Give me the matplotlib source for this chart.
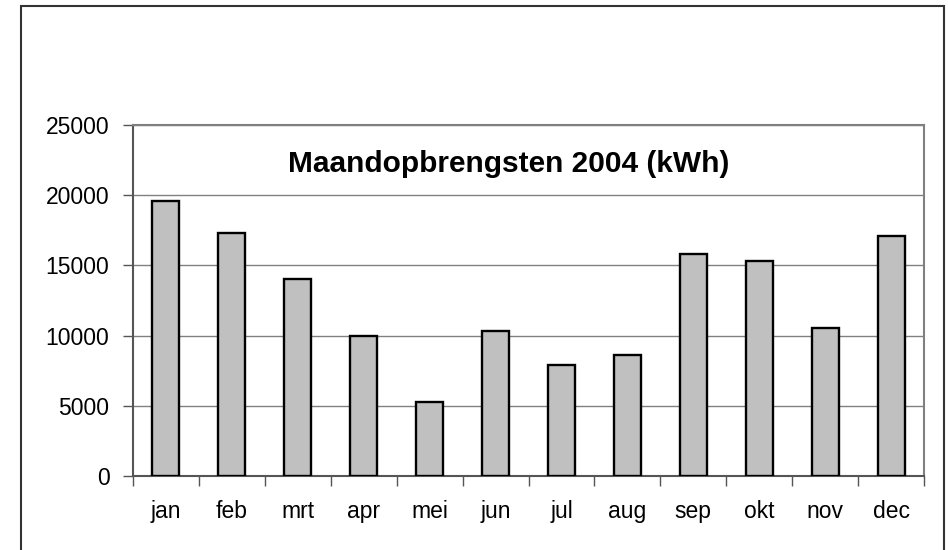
import matplotlib.pyplot as plt
from matplotlib.patches import Rectangle

# =========================
# Data
# =========================
months = ["jan", "feb", "mrt", "apr", "mei", "jun",
          "jul", "aug", "sep", "okt", "nov", "dec"]
kwh = [19600, 17300, 14050, 9980, 5240, 10310,
       7930, 8640, 15790, 15310, 10520, 17100]
title = "Maandopbrengsten 2004 (kWh)"

plt.rcParams["font.family"] = ["Liberation Sans", "DejaVu Sans"]

fig = plt.figure(figsize=(9.48, 5.5), dpi=100)
ax = fig.add_axes([133 / 948, 1 - 476 / 550, (924 - 133) / 948, (476 - 125) / 550])

x = list(range(len(months)))
ax.bar(x, kwh, width=0.41, color="#c0c0c0", edgecolor="black", linewidth=1.7, zorder=3)

ax.set_xlim(-0.5, len(months) - 0.5)
ax.set_ylim(0, 25000)
ax.set_yticks(range(0, 25001, 5000))
ax.yaxis.grid(True, color="#808080", linewidth=1.0, zorder=0)

# month labels centred, ticks on category boundaries
ax.set_xticks(x)
ax.set_xticklabels(months)
ax.tick_params(axis="x", which="major", length=0, pad=17, labelsize=16.5)
ax.set_xticks([i - 0.5 for i in range(len(months) + 1)], minor=True)
ax.tick_params(axis="x", which="minor", length=7, color="#555555", width=1.0)
ax.tick_params(axis="y", length=7, color="#555555", width=1.0, pad=10, labelsize=16.5)

for side in ["left", "bottom", "top", "right"]:
    ax.spines[side].set_color("#808080")
    ax.spines[side].set_linewidth(1.5)
ax.spines["left"].set_color("#555555")
ax.spines["bottom"].set_color("#555555")

fig.text(509 / 948, 1 - 172 / 550, title, ha="center", va="baseline",
         fontsize=21.5, fontweight="bold")

# outer chart frame
fig.patches.append(Rectangle((21 / 948, -0.02), (944 - 21) / 948, 1.02 - 6 / 550,
                             transform=fig.transFigure, fill=False,
                             edgecolor="#333333", linewidth=1.5))

fig.savefig("out.png", dpi=100)
